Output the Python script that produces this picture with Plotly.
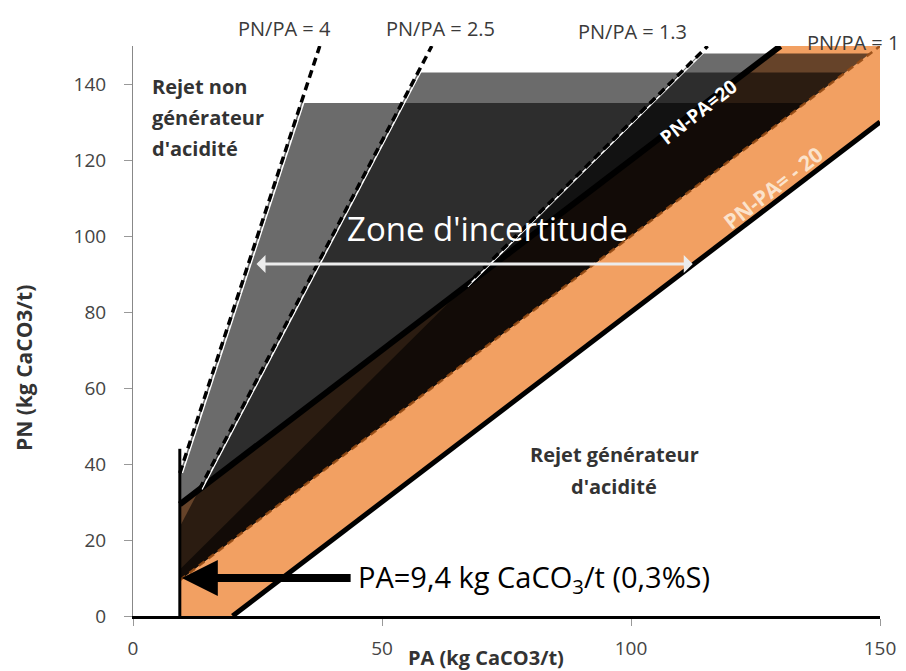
import plotly.graph_objects as go

# ---------------- data ----------------
ratio_values = [4, 2.5, 1.3, 1]
ratio_labels = ["PN/PA = 4", "PN/PA = 2.5", "PN/PA = 1.3", "PN/PA = 1"]
ratio_label_x = [30.4, 61.8, 100.3, 144.6]
ratio_label_y = [154.6, 154.6, 153.8, 150.9]

diff_values = [20, -20]
diff_labels = ["PN-PA=20", "PN-PA= - 20"]
diff_label_x = [113.5, 128.5]
diff_label_y = [132.6, 112.6]

pa_limit = 9.4           # PA = 9.4 kg CaCO3/t (0.3 %S)
pa_marker_top = 44       # height of the vertical PA marker

zone_ratios = [4, 2.5, 1.3]
zone_tops = [135, 143, 148]

axis_max = 150
x_ticks = [0, 50, 100, 150]
y_ticks = [0, 20, 40, 60, 80, 100, 120, 140]

uncert_arrow_x = [24.5, 112.4]
uncert_arrow_y = 92.6
pa_arrow_start_x = 44.0
pa_arrow_y = 10.0

FONT = "Open Sans"
ORANGE = "#F2A062"
SHADE = "rgba(0,0,0,0.58)"

fig = go.Figure()

# ---------------- orange band between PN-PA=-20 and PN-PA=+20 ----------------
lo, hi = min(diff_values), max(diff_values)
ox = [pa_limit, -lo, axis_max, axis_max, axis_max - hi, pa_limit, pa_limit]
oy = [0, 0, axis_max + lo, axis_max, axis_max, pa_limit + hi, 0]
fig.add_trace(go.Scatter(x=ox, y=oy, fill="toself", fillcolor=ORANGE,
                         line=dict(width=0), mode="lines", hoverinfo="skip"))

# ---------------- translucent uncertainty zones ----------------
for r, top in zip(zone_ratios, zone_tops):
    zx = [pa_limit, top / r, top, pa_limit, pa_limit]
    zy = [r * pa_limit, top, top, pa_limit, r * pa_limit]
    fig.add_trace(go.Scatter(x=zx, y=zy, fill="toself", fillcolor=SHADE,
                             line=dict(width=0), mode="lines", hoverinfo="skip"))

# ---------------- PN/PA = 1 dashed line (inside the orange band) ----------------
fig.add_trace(go.Scatter(x=[pa_limit, axis_max], y=[pa_limit, axis_max], mode="lines",
                         line=dict(color="rgba(150,75,20,0.9)", width=2.5, dash="7px,5px"),
                         hoverinfo="skip"))

# ---------------- PN-PA = +/-20 thick black lines ----------------
for d in diff_values:
    x0 = max(pa_limit, -d)
    x1 = min(axis_max, axis_max - d)
    fig.add_trace(go.Scatter(x=[x0, x1], y=[x0 + d, x1 + d], mode="lines",
                             line=dict(color="black", width=6 if d > 0 else 5),
                             hoverinfo="skip"))

# ---------------- dashed ratio lines (with white companion) ----------------
for r in ratio_values[:3]:
    x0 = max(pa_limit, hi / (r - 1))
    x1 = axis_max / r
    fig.add_trace(go.Scatter(x=[x0 + 0.5, x1 + 0.5], y=[r * x0, r * x1], mode="lines",
                             line=dict(color="white", width=1.6), hoverinfo="skip"))
    fig.add_trace(go.Scatter(x=[x0, x1], y=[r * x0, r * x1], mode="lines",
                             line=dict(color="black", width=3.5, dash="8px,5px"),
                             hoverinfo="skip"))

# ---------------- vertical PA marker ----------------
fig.add_trace(go.Scatter(x=[pa_limit, pa_limit], y=[0, pa_marker_top], mode="lines",
                         line=dict(color="black", width=3), hoverinfo="skip"))

annotations = []
# ratio labels (above the plot area -> paper coordinates)
for t, x, y in zip(ratio_labels, ratio_label_x, ratio_label_y):
    annotations.append(dict(x=x, y=y / axis_max, xref="x", yref="paper", text=t,
                            showarrow=False, xanchor="center", yanchor="middle",
                            font=dict(family=FONT, size=20, color="#3a3a3a")))
# diff labels
for t, x, y, c, s in zip(diff_labels, diff_label_x, diff_label_y,
                         ["white", "#FBE3CC"], [19, 21]):
    annotations.append(dict(x=x, y=y, xref="x", yref="y", text="<b>" + t + "</b>",
                            showarrow=False, textangle=-38,
                            font=dict(family=FONT, size=s, color=c)))

# region labels
for t, y in zip(["Rejet non", "générateur", "d'acidité"], [139.4, 131.2, 122.9]):
    annotations.append(dict(x=3.4, y=y, xref="x", yref="y", text="<b>" + t + "</b>",
                            showarrow=False, xanchor="left", yanchor="middle",
                            font=dict(family=FONT, size=20, color="#333333")))
for t, y in zip(["Rejet générateur", "d'acidité"], [42.6, 34.2]):
    annotations.append(dict(x=96.6, y=y, xref="x", yref="y", text="<b>" + t + "</b>",
                            showarrow=False, yanchor="middle",
                            font=dict(family=FONT, size=20, color="#333333")))

# zone d'incertitude
annotations.append(dict(x=71.1, y=102.1, xref="x", yref="y", text="Zone d'incertitude",
                        showarrow=False, font=dict(family=FONT, size=33, color="white")))
# double white arrow
annotations.append(dict(x=uncert_arrow_x[1], y=uncert_arrow_y, ax=uncert_arrow_x[0],
                        ay=uncert_arrow_y, xref="x", yref="y", axref="x", ayref="y",
                        text="", showarrow=True, arrowhead=1, startarrowhead=1,
                        arrowside="end+start", arrowsize=1, arrowwidth=3,
                        arrowcolor="#ECECEC"))
# PA arrow
annotations.append(dict(x=pa_limit + 0.4, y=pa_arrow_y, ax=pa_arrow_start_x, ay=pa_arrow_y,
                        xref="x", yref="y", axref="x", ayref="y", text="",
                        showarrow=True, arrowhead=2, arrowsize=0.9, arrowwidth=8,
                        arrowcolor="black"))
annotations.append(dict(x=pa_arrow_start_x + 0.8, y=pa_arrow_y, xref="x", yref="y",
                        text="PA=9,4 kg CaCO<sub>3</sub>/t (0,3%S)", showarrow=False,
                        xanchor="left", yanchor="middle",
                        font=dict(family=FONT, size=29, color="black")))

# axis titles
annotations.append(dict(x=70.9, y=-0.072, xref="x", yref="paper",
                        text="<b>PA (kg CaCO3/t)</b>", showarrow=False,
                        xanchor="center", yanchor="middle",
                        font=dict(family=FONT, size=20, color="#333333")))
annotations.append(dict(x=-0.146, y=0.435, xref="paper", yref="paper",
                        text="<b>PN (kg CaCO3/t)</b>", showarrow=False, textangle=-90,
                        xanchor="center", yanchor="middle",
                        font=dict(family=FONT, size=21, color="#333333")))

fig.update_layout(
    width=906, height=671,
    margin=dict(l=125, r=34, t=38, b=63),
    paper_bgcolor="white", plot_bgcolor="white",
    showlegend=False,
    annotations=annotations,
    xaxis=dict(range=[0, axis_max], tickvals=x_ticks, showgrid=False, zeroline=False,
               showline=True, linecolor="black", linewidth=3,
               ticks="outside", ticklen=7, tickcolor="#999999",
               ticklabelstandoff=6,
               tickfont=dict(family=FONT, size=19, color="#444444")),
    yaxis=dict(range=[0, axis_max], tickvals=y_ticks, showgrid=False, zeroline=False,
               showline=True, linecolor="#888888", linewidth=1,
               ticks="outside", ticklen=8, tickcolor="#999999",
               ticklabelstandoff=14,
               tickfont=dict(family=FONT, size=19, color="#444444")),
)

fig.write_html("out.html")
